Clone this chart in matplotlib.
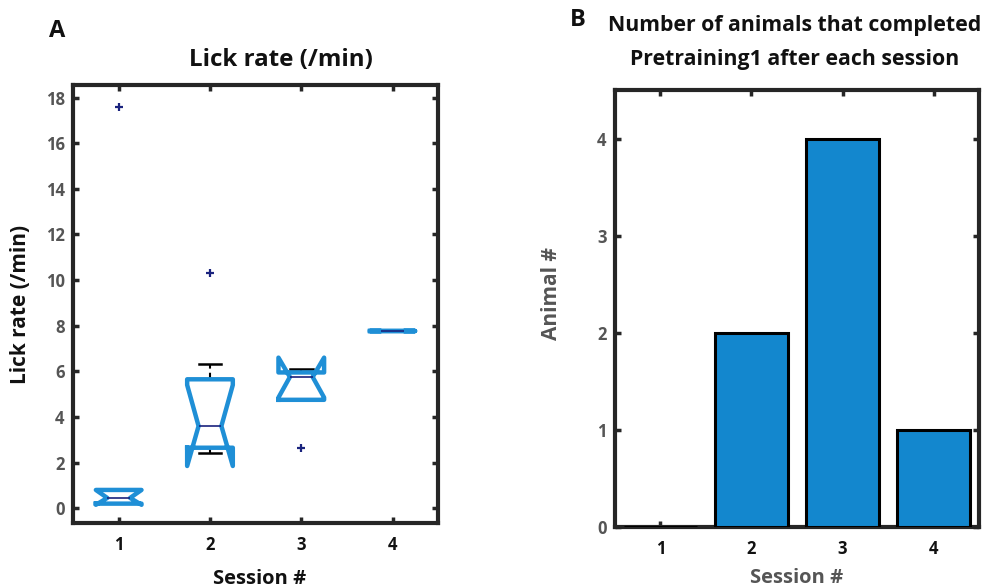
import matplotlib
matplotlib.use("Agg")
import matplotlib.pyplot as plt

plt.rcParams['font.family'] = ['Open Sans', 'DejaVu Sans']
plt.rcParams['font.weight'] = 'bold'

# Panel A: lick-rate summary statistics per session
sessions = [1, 2, 3, 4]
q1 = [0.20, 2.65, 4.75, 7.75]
q3 = [0.80, 5.65, 5.95, 7.75]
medians = [0.45, 3.60, 5.75, 7.75]
notch_lo = [0.15, 1.85, 4.85, 7.75]
notch_hi = [0.80, 5.40, 6.60, 7.75]
whisker_lo = [0.22, 2.40, 4.75, 7.75]
whisker_hi = [0.78, 6.30, 6.10, 7.75]
outliers = [[17.6], [10.3], [2.65], []]

# Panel B: animals completing Pretraining1 after each session
animals_completed = [0, 2, 4, 1]

y_ticks_a = [0, 2, 4, 6, 8, 10, 12, 14, 16, 18]
y_ticks_b = [0, 1, 2, 3, 4]

SPINE = '#262626'
GRAY = '#555555'
BOX_BLUE = '#1f8fd6'
BAR_BLUE = '#1387ce'
NAVY = '#1a237e'
TEXT = '#111111'

fig = plt.figure(figsize=(9.87, 5.88), dpi=100)
ax_a = fig.add_axes([0.074, 0.1105, 0.370, 0.745])
ax_b = fig.add_axes([0.623, 0.1037, 0.369, 0.743])


def style_axes(ax):
    for sp in ax.spines.values():
        sp.set_linewidth(3.0)
        sp.set_color(SPINE)
        sp.set_zorder(2.5)
    ax.tick_params(direction='in', length=4, width=2.5, color=SPINE,
                   top=True, right=True, labelsize=12)
    ax.tick_params(axis='y', labelcolor=GRAY, pad=6)
    ax.tick_params(axis='x', labelcolor=TEXT, pad=9)
    for lab in ax.get_xticklabels() + ax.get_yticklabels():
        lab.set_fontweight('bold')


# ---- Panel A: notched box plots ----
stats = []
for i in range(len(sessions)):
    stats.append(dict(med=medians[i], q1=q1[i], q3=q3[i],
                      cilo=notch_lo[i], cihi=notch_hi[i],
                      whislo=whisker_lo[i], whishi=whisker_hi[i],
                      fliers=outliers[i], label=str(sessions[i])))

ax_a.bxp(stats, positions=sessions, widths=0.5, shownotches=True, showfliers=True,
         boxprops=dict(color=BOX_BLUE, linewidth=3.2, zorder=3),
         medianprops=dict(color=NAVY, linewidth=1.2, zorder=4),
         whiskerprops=dict(color='black', linewidth=1.5, linestyle=(0, (3, 2)), zorder=2),
         capprops=dict(color='black', linewidth=1.8, zorder=2),
         flierprops=dict(marker='+', markeredgecolor=NAVY, markersize=6,
                         markeredgewidth=1.6, linestyle='none'))

ax_a.set_xlim(0.5, 4.5)
ax_a.set_ylim(-0.65, 18.55)
ax_a.set_yticks(y_ticks_a)
ax_a.set_xticks(sessions)
ax_a.set_xticklabels([str(s) for s in sessions])
style_axes(ax_a)
ax_a.set_ylabel('Lick rate (/min)', fontsize=15, fontweight='bold', color=TEXT)
ax_a.yaxis.set_label_coords(-0.115, 0.5)
ax_a.set_xlabel('Session #', fontsize=14.5, fontweight='bold', color=TEXT)
ax_a.xaxis.set_label_coords(0.51, -0.105)

# ---- Panel B: bar chart ----
ax_b.bar(sessions, animals_completed, width=0.8, color=BAR_BLUE,
         edgecolor='black', linewidth=2.2, zorder=3)
ax_b.set_xlim(0.5, 4.5)
ax_b.set_ylim(0, 4.5)
ax_b.set_yticks(y_ticks_b)
ax_b.set_xticks(sessions)
ax_b.set_xticklabels([str(s) for s in sessions])
style_axes(ax_b)
ax_b.set_ylabel('Animal #', fontsize=15, fontweight='bold', color=GRAY)
ax_b.yaxis.set_label_coords(-0.145, 0.535)
ax_b.set_xlabel('Session #', fontsize=14.5, fontweight='bold', color=GRAY)
ax_b.xaxis.set_label_coords(0.50, -0.093)

# ---- Titles and panel letters ----
fig.text(281 / 987, 1 - 60 / 588, 'Lick rate (/min)', ha='center', va='center',
         fontsize=17.4, fontweight='bold', color=TEXT)
fig.text(795 / 987, 1 - 26 / 588, 'Number of animals that completed',
         ha='center', va='center', fontsize=15.3, fontweight='bold', color=TEXT)
fig.text(795 / 987, 1 - 59 / 588, 'Pretraining1 after each session',
         ha='center', va='center', fontsize=15.3, fontweight='bold', color=TEXT)
fig.text(57 / 987, 1 - 31 / 588, 'A', ha='center', va='center',
         fontsize=17, fontweight='bold', color=TEXT)
fig.text(578 / 987, 1 - 20 / 588, 'B', ha='center', va='center',
         fontsize=17, fontweight='bold', color=TEXT)

fig.savefig('out.png', dpi=100, facecolor='white')
